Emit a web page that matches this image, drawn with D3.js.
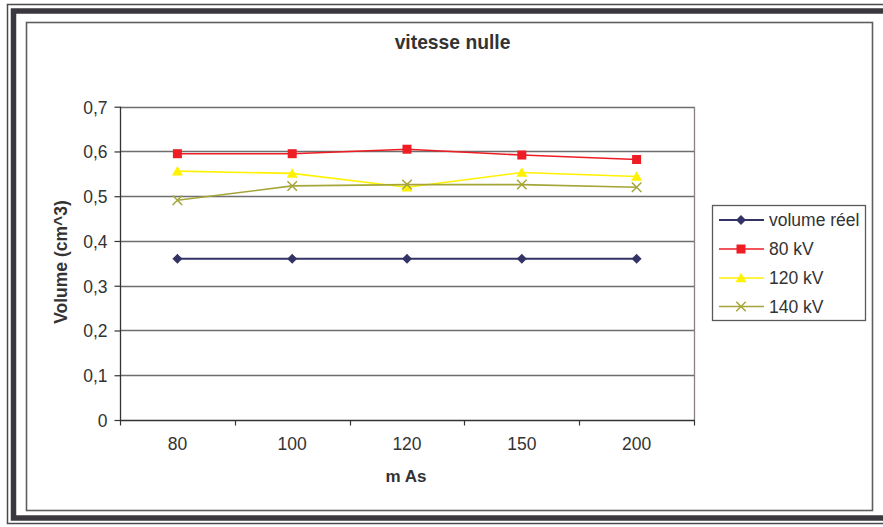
<!DOCTYPE html>
<html>
<head>
<meta charset="utf-8">
<script src="https://cdn.jsdelivr.net/npm/d3@7"></script>
<style>
  html, body { margin: 0; padding: 0; background: #ffffff; }
  svg { display: block; }
  text { font-family: "Liberation Sans", Arial, sans-serif; fill: #333; }
</style>
</head>
<body>
<svg id="chart" width="883" height="527"></svg>
<script>
// ---- data ----
const categories = ["80", "100", "120", "150", "200"];
const seriesNames = ["volume réel", "80 kV", "120 kV", "140 kV"];
const volumeReel = [0.36, 0.36, 0.36, 0.36, 0.36];
const kv80 = [0.595, 0.595, 0.605, 0.592, 0.582];
const kv120 = [0.556, 0.551, 0.520, 0.553, 0.544];
const kv140 = [0.491, 0.523, 0.526, 0.526, 0.520];
const yTicks = [0, 0.1, 0.2, 0.3, 0.4, 0.5, 0.6, 0.7];
const titleText = "vitesse nulle";
const xTitle = "m As";
const yTitle = "Volume (cm^3)";

const seriesData = [volumeReel, kv80, kv120, kv140];
const colors = ["#333366", "#EE1C24", "#FFF200", "#A5A53A"];
const markers = ["diamond", "square", "triangle", "x"];

const svg = d3.select("#chart");

// ---- frames ----
svg.append("rect").attr("x", 7.5).attr("y", 4.5).attr("width", 900).attr("height", 519)
  .attr("fill", "none").attr("stroke", "#4a4a4e").attr("stroke-width", 1.5);
svg.append("rect").attr("x", 13.5).attr("y", 11).attr("width", 900).attr("height", 507)
  .attr("fill", "none").attr("stroke", "#3a383e").attr("stroke-width", 5.5);
svg.append("rect").attr("x", 26.5).attr("y", 22.5).attr("width", 846).attr("height", 488)
  .attr("fill", "#fff").attr("stroke", "#5e5e5e").attr("stroke-width", 1.6);

// ---- scales ----
const plot = { left: 120, right: 694, top: 106.7, bottom: 420 };
const x = d3.scaleBand().domain(categories).range([plot.left, plot.right]).paddingInner(0).paddingOuter(0);
const y = d3.scaleLinear().domain([0, 0.7]).range([plot.bottom, plot.top]);
const fmt = v => d3.format(".1f")(v).replace(".", ",").replace(/^0,0$/, "0");

// ---- gridlines ----
const grid = svg.append("g");
yTicks.filter(t => t > 0).forEach(t => {
  grid.append("line")
    .attr("x1", plot.left).attr("x2", plot.right)
    .attr("y1", Math.round(y(t)) + 0.5).attr("y2", Math.round(y(t)) + 0.5)
    .attr("stroke", "#6e6e6e").attr("stroke-width", 1.3);
});
// right border of plot area
svg.append("line").attr("x1", plot.right + 0.5).attr("x2", plot.right + 0.5)
  .attr("y1", y(0.7)).attr("y2", plot.bottom)
  .attr("stroke", "#8a8080").attr("stroke-width", 1.3);

// ---- y axis ----
const yAxis = d3.axisLeft(y).tickValues(yTicks).tickFormat(fmt).tickSize(6).tickPadding(7);
const gy = svg.append("g").attr("transform", `translate(${plot.left + 0.5},0)`).call(yAxis);
gy.select(".domain").attr("stroke", "#333").attr("stroke-width", 1.3).attr("d", `M0,${y(0.7)}V${plot.bottom}`);
gy.selectAll(".tick line").attr("stroke", "#333").attr("stroke-width", 1.2);
gy.selectAll(".tick text").style("font-size", "17.5px").attr("fill", "#333")
  .style("font-family", '"Liberation Sans", Arial, sans-serif').attr("dy", "0.36em");

// ---- x axis ----
const gx = svg.append("g").attr("transform", `translate(0,${plot.bottom + 0.5})`);
gx.append("line").attr("x1", plot.left).attr("x2", plot.right + 1).attr("y1", 0).attr("y2", 0)
  .attr("stroke", "#333").attr("stroke-width", 1.3);
const edges = categories.map(c => x(c)).concat([x(categories[categories.length - 1]) + x.bandwidth()]);
gx.selectAll("line.tk").data(edges).enter().append("line").attr("class", "tk")
  .attr("x1", d => Math.round(d) + 0.5).attr("x2", d => Math.round(d) + 0.5)
  .attr("y1", 0).attr("y2", 5).attr("stroke", "#333").attr("stroke-width", 1.2);
gx.selectAll("text").data(categories).enter().append("text")
  .attr("x", d => x(d) + x.bandwidth() / 2).attr("y", 29)
  .attr("text-anchor", "middle").style("font-size", "17.5px").text(d => d);

// ---- series ----
const line = d3.line().x((d, i) => x(categories[i]) + x.bandwidth() / 2).y(d => y(d));

function drawMarker(g, type, cx, cy, color, s) {
  if (type === "diamond") {
    g.append("path").attr("d", `M${cx},${cy - s}L${cx + s},${cy}L${cx},${cy + s}L${cx - s},${cy}Z`).attr("fill", color);
  } else if (type === "square") {
    g.append("rect").attr("x", cx - s * 0.9).attr("y", cy - s * 0.9).attr("width", s * 1.8).attr("height", s * 1.8).attr("fill", color);
  } else if (type === "triangle") {
    g.append("path").attr("d", `M${cx},${cy - s * 1.05}L${cx + s * 1.1},${cy + s * 0.85}L${cx - s * 1.1},${cy + s * 0.85}Z`).attr("fill", color);
  } else if (type === "x") {
    const r = s * 0.95;
    g.append("path").attr("d", `M${cx - r},${cy - r}L${cx + r},${cy + r}M${cx - r},${cy + r}L${cx + r},${cy - r}`)
      .attr("stroke", color).attr("stroke-width", 1.5).attr("fill", "none");
  }
}

seriesData.forEach((vals, si) => {
  const g = svg.append("g");
  g.append("path").datum(vals).attr("d", line).attr("fill", "none")
    .attr("stroke", colors[si]).attr("stroke-width", si === 0 ? 2 : 1.6);
  vals.forEach((v, i) => {
    drawMarker(g, markers[si], x(categories[i]) + x.bandwidth() / 2, y(v), colors[si], 5);
  });
});

// ---- legend ----
const lg = svg.append("g");
lg.append("rect").attr("x", 712.5).attr("y", 205.5).attr("width", 153).attr("height", 115)
  .attr("fill", "#fff").attr("stroke", "#5a5a5a").attr("stroke-width", 1.3);
const legendY = [220, 249, 278, 306.5];
seriesNames.forEach((name, si) => {
  const ly = legendY[si];
  lg.append("line").attr("x1", 719).attr("x2", 764).attr("y1", ly).attr("y2", ly)
    .attr("stroke", colors[si]).attr("stroke-width", si === 0 ? 2 : 1.6);
  drawMarker(lg, markers[si], 741, ly, colors[si], 5);
  lg.append("text").attr("x", 769).attr("y", ly + 6).style("font-size", "17.5px").text(name);
});

// ---- titles ----
svg.append("text").attr("x", 452.5).attr("y", 49).attr("text-anchor", "middle")
  .style("font-size", "19.3px").style("font-weight", "bold").text(titleText);
svg.append("text").attr("x", 406).attr("y", 482).attr("text-anchor", "middle")
  .style("font-size", "17px").style("font-weight", "bold").text(xTitle);
svg.append("text").attr("transform", "translate(67,262) rotate(-90)").attr("text-anchor", "middle")
  .style("font-size", "17.5px").style("font-weight", "bold").text(yTitle);
</script>
</body>
</html>
